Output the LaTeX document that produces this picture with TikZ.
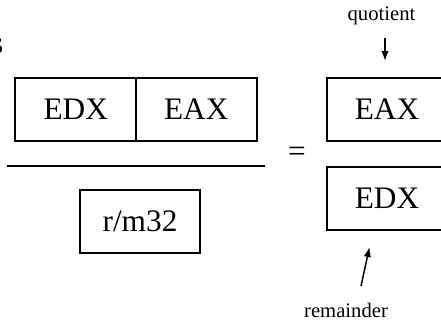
\documentclass[tikz,border=0pt]{standalone}
\usepackage{fontspec}
\setmainfont{Liberation Serif}
\usetikzlibrary{arrows.meta}

\begin{document}
\begin{tikzpicture}[x=0.75pt, y=-0.75pt, >={Latex[length=7.5pt,width=5.5pt]},
    font=\fontsize{23.5}{26}\selectfont,
    reg/.style={draw, line width=1.5pt, minimum width=90.4pt, minimum height=47.25pt, inner sep=0pt, text depth=-1.5pt},
    note/.style={font=\fontsize{15.5}{18}\selectfont, inner sep=0pt}]
  \useasboundingbox (0,0) rectangle (441,322);
  \node[anchor=base east, inner sep=0pt] (cut) at (3.5,53) {s};
  % dividend and divisor
  \node[reg] (hi) at (75.75,109.5) {EDX};
  \node[reg] (lo) at (196.25,109.5) {EAX};
  \draw[line width=1.5pt] (7,166) -- (265,166);
  \node[reg] (div) at (140,221.5) {r/m32};
  \node (eq) at (297,154) {=};
  % results
  \node[reg] (quo) at (387,109.5) {EAX};
  \node[reg] (rem) at (387,198) {EDX};
  \node[note] (qlabel) at (381.5,16) {quotient};
  \node[note] (rlabel) at (346,310) {remainder};
  \coordinate (qtail) at (385,38);
  \coordinate (qtip) at (385,61);
  \coordinate (rtail) at (361,286);
  \coordinate (rtip) at (369.5,247);
  \draw[->, line width=1.1pt] (qtail) -- (qtip);
  \draw[->, line width=1.1pt] (rtail) -- (rtip);
\end{tikzpicture}
\end{document}
